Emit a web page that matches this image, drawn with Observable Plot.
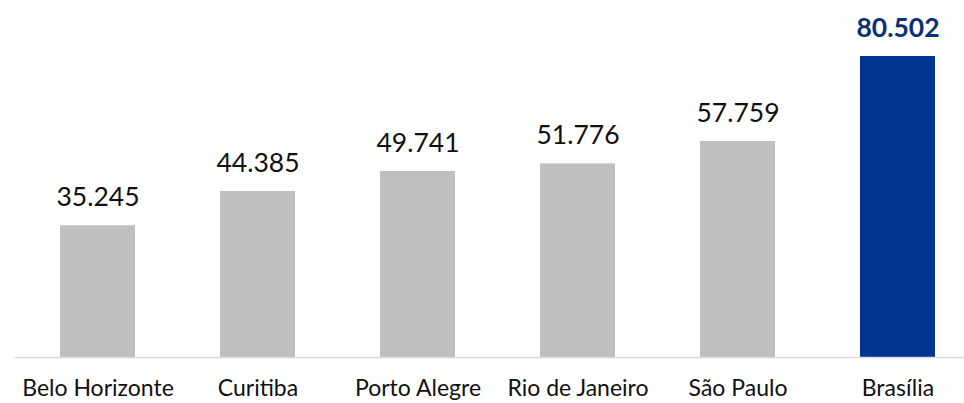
<!DOCTYPE html>
<html>
<head>
<meta charset="utf-8">
<script src="https://cdn.jsdelivr.net/npm/d3@7"></script>
<script src="https://cdn.jsdelivr.net/npm/@observablehq/plot@0.6"></script>
<style>
  html, body { margin: 0; padding: 0; background: #fff; overflow: hidden; }
</style>
</head>
<body>
<div id="chart"></div>
<script>
const cities = ["Belo Horizonte", "Curitiba", "Porto Alegre", "Rio de Janeiro", "São Paulo", "Brasília"];
const values = [35245, 44385, 49741, 51776, 57759, 80502];
const highlight = "Brasília";

const data = cities.map((c, i) => ({city: c, value: values[i]}));
const others = data.filter(d => d.city !== highlight);
const hi = data.filter(d => d.city === highlight);
const fmt = d3.formatLocale({decimal: ",", thousands: ".", grouping: [3], currency: ["R$", ""]}).format(",d");

const plot = Plot.plot({
  width: 964,
  height: 403,
  marginLeft: 15,
  marginRight: -15,
  marginTop: 56,
  marginBottom: 46,
  style: {fontFamily: "Lato, 'Noto Sans', sans-serif", background: "#fff"},
  x: {domain: cities, paddingInner: 0.533, paddingOuter: 0.2665, label: null},
  y: {domain: [0, d3.max(values)], nice: false, axis: null},
  marks: [
    Plot.barY(data, {x: "city", y: "value", fill: d => d.city === highlight ? "#003591" : "#BFBFBF"}),
    Plot.ruleY([0], {stroke: "#D9D9D9", strokeWidth: 1.5}),
    Plot.text(others, {
      x: "city", y: "value", text: d => fmt(d.value),
      lineAnchor: "bottom", dy: -20, fontSize: 26.5, fill: "#111"
    }),
    Plot.text(hi, {
      x: "city", y: "value", text: d => fmt(d.value),
      lineAnchor: "bottom", dy: -20, fontSize: 26.5, fill: "#0A3078", fontWeight: "bold"
    }),
    Plot.axisX({tickSize: 0, tickPadding: 22, fontSize: 23, fill: "#111", label: null})
  ]
});
document.getElementById("chart").appendChild(plot);
</script>
</body>
</html>
